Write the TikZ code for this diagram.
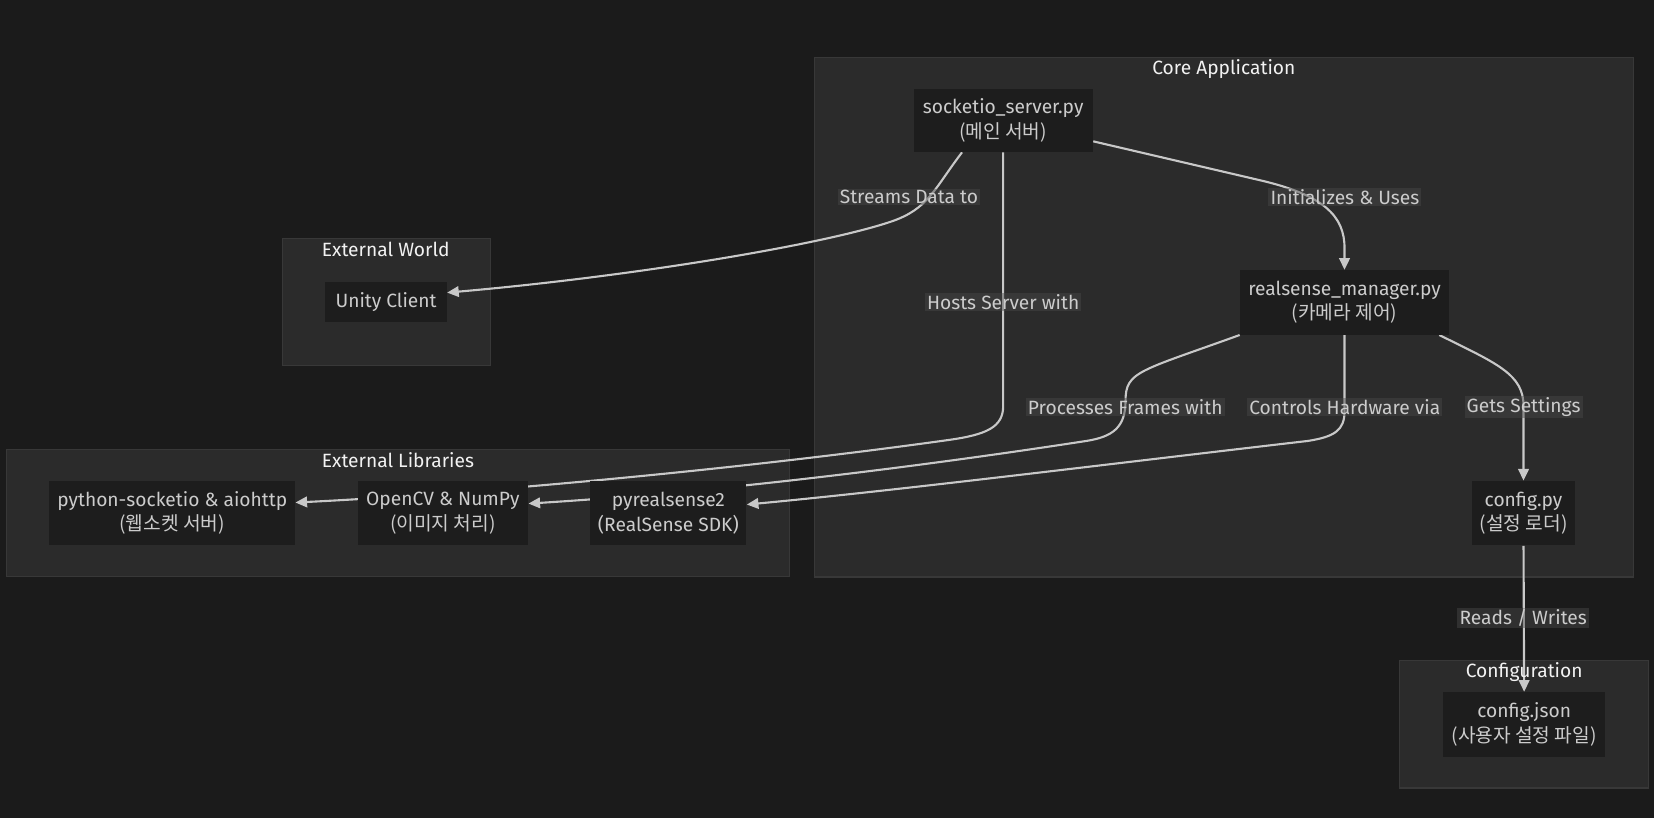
\documentclass[tikz,border=0pt]{standalone}
\usepackage{fontspec}
\setmainfont{Fira Sans}
\newfontfamily\kr{Noto Sans CJK KR}
\usetikzlibrary{arrows.meta}
\definecolor{bgc}{HTML}{1B1B1B}
\definecolor{clfill}{HTML}{2B2B2B}
\definecolor{cldraw}{HTML}{383838}
\definecolor{ndfill}{HTML}{1D1D1D}
\definecolor{txt}{HTML}{CCCCCC}
\definecolor{ttl}{HTML}{F2F2F2}
\definecolor{edgec}{HTML}{C8C8C8}
\definecolor{lblbg}{HTML}{4A4A4A}
\pgfdeclarelayer{bg}
\pgfdeclarelayer{edges}
\pgfsetlayers{bg,edges,main}
\begin{document}
\begin{tikzpicture}[x=0.5pt,y=-0.5pt,
  base/.style={font=\fontsize{9.1}{11.6}\selectfont},
  nd/.style={base, fill=ndfill, text=txt, align=center, inner sep=0pt},
  cl/.style={fill=clfill, draw=cldraw, line width=0.5pt},
  ttlnode/.style={base, text=ttl, inner sep=0pt},
  lbl/.style={base, fill=lblbg, fill opacity=0.45, text opacity=1, text=txt, inner xsep=1pt, inner ysep=0.6pt},
  edge/.style={draw=edgec, line width=1pt, -{Triangle[length=5.5pt,width=5pt]}}
]
\begin{pgfonlayer}{bg}
\fill[bgc] (0,0) rectangle (1568,775);
\draw[cl] (772.3,54.6) rectangle (1548.7,547);
\draw[cl] (267.5,226) rectangle (464.7,346.7);
\draw[cl] (5.8,426) rectangle (748.8,546.7);
\draw[cl] (1326.6,626) rectangle (1562.7,747);
\end{pgfonlayer}
\useasboundingbox (0,0) rectangle (1568,775);

% cluster titles
\node[ttlnode] (tcore) at (1160.2,65.3) {Core Application};
\node[ttlnode] (tworld) at (365.7,236.4) {External World};
\node[ttlnode] (tlibs) at (377.3,436) {External Libraries};
\node[ttlnode] (tconf) at (1444.9,636.8) {Configuration};

% nodes
\node[nd, minimum width=85pt, minimum height=30pt] (sock) at (951,114) {socketio\_server.py\\{\kr (메인 서버)}};
\node[nd, minimum width=99pt, minimum height=30.5pt] (rsm) at (1274.6,286.7) {realsense\_manager.py\\{\kr (카메라 제어)}};
\node[nd, minimum width=48.75pt, minimum height=30.5pt] (cfgpy) at (1444.3,486.5) {config.py\\{\kr (설정 로더)}};
\node[nd, minimum width=57.5pt, minimum height=19pt] (unity) at (366,286.4) {Unity Client};
\node[nd, minimum width=116.4pt, minimum height=30.4pt] (pysock) at (163.3,486.4) {python-socketio \& aiohttp\\{\kr (웹소켓 서버)}};
\node[nd, minimum width=80.8pt, minimum height=30.4pt] (cv) at (419.8,486.4) {OpenCV \& NumPy\\{\kr (이미지 처리)}};
\node[nd, minimum width=74pt, minimum height=30pt] (pyrs) at (633.6,486.3) {pyrealsense2\\(RealSense SDK)};
\node[nd, minimum width=76.5pt, minimum height=30.5pt] (cfgjson) at (1444.9,686.7) {config.json\\{\kr (사용자 설정 파일)}};

% edges
\begin{pgfonlayer}{edges}
\draw[edge] ([xshift=-19.5pt]sock.south) .. controls (885,180) and (880,198) .. (845,210)
   .. controls (780,232) and (600,262) .. ([yshift=4.5pt]unity.east);
\draw[edge] ([yshift=-10pt]sock.east) -- (1195,171) .. controls (1255,185) and (1274.6,205) .. (1274.6,235) -- (rsm.north);
\draw[edge] (sock.south) -- (951,385) .. controls (951,405) and (935,412) .. (900,417)
   .. controls (700,445) and (450,468) .. ([yshift=5pt]pysock.east);
\draw[edge] (rsm.south west) .. controls (1080,352) and (1067,352) .. (1067,380)
   .. controls (1067,405) and (1055,414) .. (1030,418)
   .. controls (900,438) and (700,465) .. ([yshift=4.5pt]cv.east);
\draw[edge] (rsm.south) -- (1274.6,390) .. controls (1274.6,408) and (1265,414) .. (1240,418)
   .. controls (1050,440) and (850,465) .. ([yshift=4pt]pyrs.east);
\draw[edge] ([xshift=-4.8pt]rsm.south east) .. controls (1420,345) and (1444.3,355) .. (1444.3,385) -- (cfgpy.north);
\draw[edge] (cfgpy.south) -- (cfgjson.north);
\end{pgfonlayer}

% edge labels
\node[lbl] (l1) at (861.7,187) {Streams Data to};
\node[lbl] (l2) at (1275,187) {Initializes \& Uses};
\node[lbl] (l3) at (951,286) {Hosts Server with};
\node[lbl] (l4) at (1066.7,386) {Processes Frames with};
\node[lbl] (l5) at (1274.8,386) {Controls Hardware via};
\node[lbl] (l6) at (1444.4,386) {Gets Settings};
\node[lbl] (l7) at (1444,585.6) {Reads / Writes};
\end{tikzpicture}
\end{document}
